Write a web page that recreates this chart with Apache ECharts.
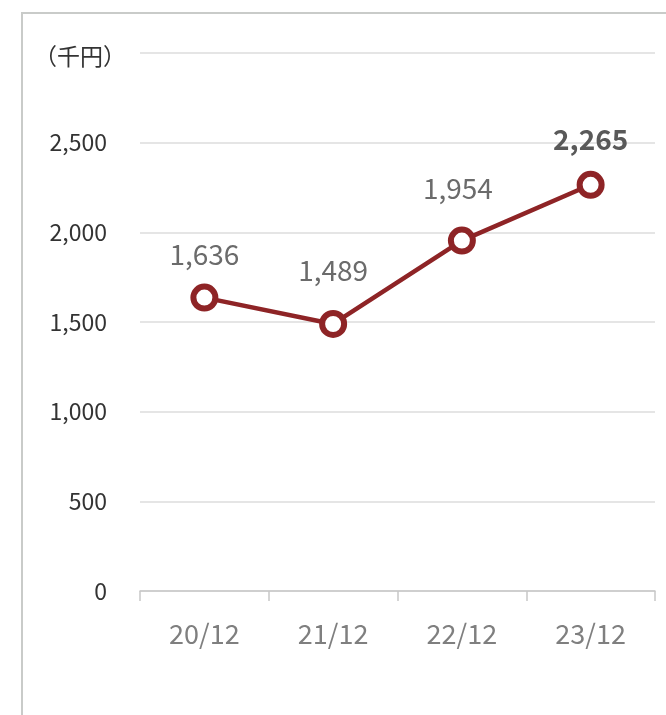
<!DOCTYPE html>
<html>
<head>
<meta charset="utf-8">
<script src="https://cdn.jsdelivr.net/npm/echarts@6/dist/echarts.min.js"></script>
<style>
  html, body { margin: 0; padding: 0; background: #fff; }
  #chart { width: 666px; height: 715px; }
</style>
</head>
<body>
<div id="chart"></div>
<script>
// 決算期ごとの値（千円）
const categories = ['20/12', '21/12', '22/12', '23/12'];
const values = [1636, 1489, 1954, 2265];
const yTicks = [0, 500, 1000, 1500, 2000, 2500, 3000];
const unitLabel = '（千円）';

const FONT = '"Noto Sans CJK JP", "Noto Sans", sans-serif';
const RED = '#8e2426';
const labelGap = [15, 26, 24, 17];
const labelShiftX = [0, 0, -4, 0];

const chart = echarts.init(document.getElementById('chart'));

const seriesData = values.map((v, i) => {
  const last = i === values.length - 1;
  return {
    value: v,
    label: {
      distance: labelGap[i],
      offset: [labelShiftX[i], 0],
      fontWeight: last ? 'bold' : 'normal',
      color: last ? '#595959' : '#6b6b6b'
    }
  };
});

chart.setOption({
  animation: false,
  textStyle: { fontFamily: FONT },
  graphic: [
    { type: 'line', shape: { x1: 22, y1: 13, x2: 666, y2: 13 }, style: { stroke: '#c9cbc9', lineWidth: 2 } },
    { type: 'line', shape: { x1: 22, y1: 12, x2: 22, y2: 715 }, style: { stroke: '#c9cbc9', lineWidth: 2 } }
  ],
  grid: { left: 140, right: 11, top: 53, bottom: 124 },
  xAxis: {
    type: 'category',
    data: categories,
    boundaryGap: true,
    axisLine: { lineStyle: { color: '#c8c8c8', width: 1.5 } },
    axisTick: { show: true, length: 10, lineStyle: { color: '#c8c8c8', width: 1.5 } },
    axisLabel: { color: '#7f7f7f', fontSize: 27, margin: 29, fontFamily: FONT }
  },
  yAxis: {
    type: 'value',
    min: yTicks[0],
    max: yTicks[yTicks.length - 1],
    interval: yTicks[1] - yTicks[0],
    name: unitLabel,
    nameLocation: 'end',
    nameGap: -3,
    nameTextStyle: {
      color: '#333',
      fontSize: 23,
      fontFamily: FONT,
      align: 'right',
      verticalAlign: 'middle',
      padding: [0, 14, 0, 0]
    },
    axisLine: { show: false },
    axisTick: { show: false },
    splitLine: { lineStyle: { color: '#dcdcdc', width: 1.5 } },
    axisLabel: {
      color: '#333',
      fontSize: 23,
      margin: 33,
      fontFamily: FONT,
      formatter: v => v === yTicks[yTicks.length - 1] ? '' : v.toLocaleString('en-US')
    }
  },
  series: [{
    type: 'line',
    data: seriesData,
    symbol: 'circle',
    symbolSize: 22,
    itemStyle: { color: '#fff', borderColor: RED, borderWidth: 6 },
    lineStyle: { color: RED, width: 4.5 },
    label: {
      show: true,
      position: 'top',
      fontSize: 28,
      fontFamily: FONT,
      formatter: p => p.value.toLocaleString('en-US')
    },
    z: 3
  }]
});
</script>
</body>
</html>
